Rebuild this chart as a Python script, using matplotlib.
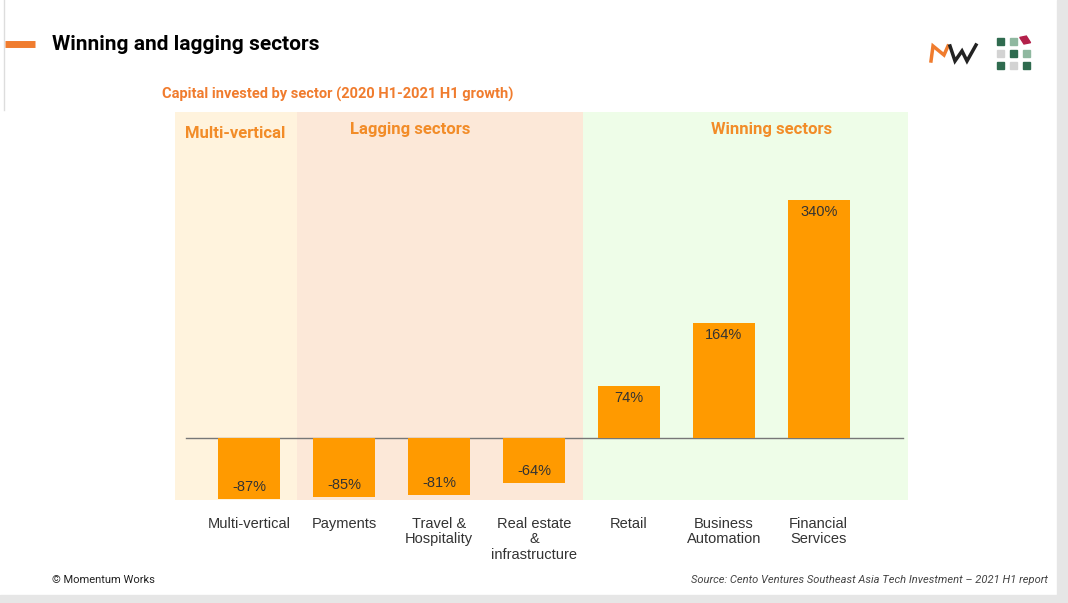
import matplotlib.pyplot as plt
from matplotlib.patches import Rectangle
from matplotlib.lines import Line2D

sectors = ['Multi-vertical', 'Payments', 'Travel &\nHospitality', 'Real estate\n&\ninfrastructure',
           'Retail', 'Business\nAutomation', 'Financial\nServices']
growth = [-87, -85, -81, -64, 74, 164, 340]
groups = ['Multi-vertical', 'Lagging sectors', 'Winning sectors']

W, H = 1068, 603
fig = plt.figure(figsize=(W / 100, H / 100), dpi=100)
fig.patch.set_facecolor('white')

def fx(px):
    return px / W

def fy(py):
    return 1 - py / H

# slide frame
fig.patches.append(Rectangle((fx(1057), 0), 1, 1, transform=fig.transFigure, color='#e6e6e6', zorder=0))
fig.patches.append(Rectangle((0, 0), 1, fy(595), transform=fig.transFigure, color='#e6e6e6', zorder=0))
fig.add_artist(Line2D([fx(4), fx(4)], [fy(0), fy(110)], color='#dddddd', lw=1))

# header
fig.add_artist(Line2D([fx(5), fx(35)], [fy(44), fy(44)], color='#f07c2e', lw=5, solid_capstyle='butt'))
fig.text(fx(52), fy(44), 'Winning and lagging sectors', fontsize=15, fontweight='bold',
         family='Roboto', color='black', va='center')
fig.text(fx(162), fy(94), 'Capital invested by sector (2020 H1-2021 H1 growth)', fontsize=10.5,
         fontweight='bold', family='Roboto', color='#f07c2e', va='center')

# logo: MW
fig.add_artist(Line2D([fx(931), fx(933), fx(944), fx(948)], [fy(61), fy(46), fy(55), fy(46)],
                      color='#f07c2e', lw=2.5, solid_joinstyle='miter'))
fig.add_artist(Line2D([fx(950), fx(955), fx(962), fx(967), fx(976)], [fy(46), fy(61), fy(51), fy(61), fy(45)],
                      color='#222222', lw=2.5, solid_joinstyle='miter'))
# logo: squares
sq_colors = [['#2f6b4f', '#8fb8a0', None],
             ['#d3d3d3', '#2f6b4f', '#8fb8a0'],
             ['#2f6b4f', '#d3d3d3', '#2f6b4f']]
xs = [997, 1010, 1023]
ys = [38, 50, 62]
for r in range(3):
    for c in range(3):
        if sq_colors[r][c] is None:
            continue
        fig.patches.append(Rectangle((fx(xs[c]), fy(ys[r] + 7)), fx(7), 7 / H,
                                     transform=fig.transFigure, color=sq_colors[r][c]))
fig.patches.append(Rectangle((fx(1024), fy(44)), fx(7), 7 / H, angle=20,
                             transform=fig.transFigure, color='#b3204a'))

# chart
ax = fig.add_axes([fx(175), fy(500), fx(908 - 175), (500 - 112) / H])
x = list(range(len(sectors)))
ax.set_xlim(-0.78, 6.94)
ax.set_ylim(-88.6, 465.7)

ax.axvspan(-0.78, 0.505, color='#fff3dd', zorder=0, lw=0)
ax.axvspan(0.505, 3.52, color='#fce8d8', zorder=0, lw=0)
ax.axvspan(3.52, 6.94, color='#eefde8', zorder=0, lw=0)

ax.plot([-0.66, 6.89], [0, 0], color='#777777', lw=1, zorder=1)
bars = ax.bar(x, growth, width=0.65, color='#ff9a00', zorder=2)

for xi, v in zip(x, growth):
    off = -12 if v > 0 else 12
    ax.annotate(f'{v}%', (xi, v), xytext=(0, off * 0.72), textcoords='offset points',
                ha='center', va='center', fontsize=10.5, family='Liberation Sans', color='#333333', zorder=3)

ax.text(-0.67, 435, groups[0], ha='left', va='center', fontsize=12, fontweight='bold',
        family='Roboto', color='#f28c28')
ax.text(1.70, 441, groups[1], ha='center', va='center', fontsize=12, fontweight='bold',
        family='Roboto', color='#f28c28')
ax.text(5.50, 441, groups[2], ha='center', va='center', fontsize=12, fontweight='bold',
        family='Roboto', color='#f28c28')

ax.set_xticks(x)
ax.set_xticklabels(sectors, fontsize=10.5, family='Liberation Sans', color='#333333', linespacing=1.15)
ax.tick_params(axis='x', length=0, pad=12)
ax.set_yticks([])
for s in ax.spines.values():
    s.set_visible(False)

# footer
fig.text(fx(52), fy(580), '\u00a9 Momentum Works', fontsize=8, family='Roboto', color='#222222', va='center')
fig.text(fx(1048), fy(580), 'Source: Cento Ventures Southeast Asia Tech Investment \u2013 2021 H1 report',
         fontsize=8, family='Roboto', style='italic', color='#444444', va='center', ha='right')

fig.savefig('out.png', dpi=100)
